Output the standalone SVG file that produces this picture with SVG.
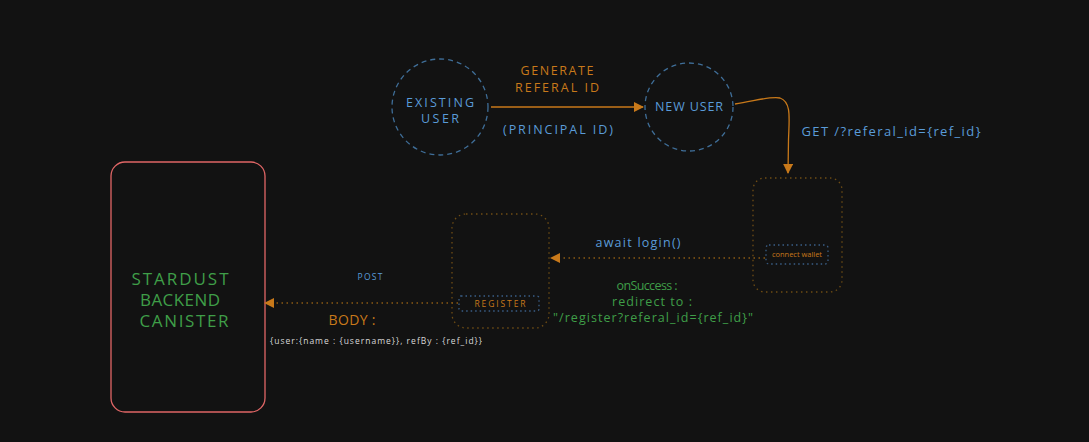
<svg xmlns="http://www.w3.org/2000/svg" width="1089" height="442" viewBox="0 0 1089 442">
<defs>
<style>
text{font-family:"Open Sans","Liberation Sans",sans-serif;text-anchor:middle}
.blue{fill:#5a9bd8}
.orange{fill:#c8791a}
.green{fill:#3f9e48}
.white{fill:#d8d8d8}
.circ{fill:none;stroke:#3f6e98;stroke-width:1.3;stroke-dasharray:5 4}
.dbox{fill:none;stroke:#6e4c14;stroke-width:1.3;stroke-dasharray:1.5 3.5}
.ibox{fill:none;stroke:#3a5e86;stroke-width:1.3;stroke-dasharray:1.5 3}
.solid{fill:none;stroke:#c8791a;stroke-width:1.3}
.dot{fill:none;stroke:#8a5a14;stroke-width:1.3;stroke-dasharray:1.5 3.5}
</style>
<marker id="ah" viewBox="0 0 10 10" refX="9" refY="5" markerWidth="10" markerHeight="10" markerUnits="userSpaceOnUse" orient="auto">
<path d="M0,0 L10,5 L0,10 Z" fill="#c8791a"/>
</marker>
</defs>
<rect width="1089" height="442" fill="#121212"/>

<g id="existing-user">
<circle class="circ" cx="440" cy="107" r="48"/>
<text class="blue" x="440" y="107" font-size="12.5" textLength="68" lengthAdjust="spacing">EXISTING</text>
<text class="blue" x="440" y="123" font-size="12.5" textLength="38" lengthAdjust="spacing">USER</text>
</g>

<g id="new-user">
<circle class="circ" cx="689" cy="107" r="44"/>
<text class="blue" x="689" y="111" font-size="12.5" textLength="68" lengthAdjust="spacing">NEW USER</text>
</g>

<g id="connect-wallet-page">
<rect class="dbox" x="753" y="178" width="89" height="114" rx="12"/>
<rect class="ibox" x="766" y="245" width="62" height="19" rx="3"/>
<text class="orange" x="797" y="257" font-size="7.5" textLength="50" lengthAdjust="spacing">connect wallet</text>
</g>

<g id="register-page">
<rect class="dbox" x="452" y="214" width="97" height="114" rx="14"/>
<rect class="ibox" x="459" y="296" width="80" height="15" rx="2"/>
<text class="orange" x="500" y="307" font-size="8.5" textLength="51" lengthAdjust="spacing">REGISTER</text>
</g>

<g id="stardust-backend">
<rect x="111" y="162" width="154" height="250" rx="14" fill="none" stroke="#e06666" stroke-width="1.3"/>
<text class="green" x="180" y="285" font-size="17" textLength="97" lengthAdjust="spacing">STARDUST</text>
<text class="green" x="180" y="306" font-size="17" textLength="80" lengthAdjust="spacing">BACKEND</text>
<text class="green" x="184" y="327" font-size="17" textLength="89" lengthAdjust="spacing">CANISTER</text>
</g>

<g id="connectors">
<path class="solid" d="M491,107 L643,107" marker-end="url(#ah)"/>
<path class="solid" d="M735,104 C755,101 770,96 780,98 C792,102 789,120 788.5,140 L788,173" marker-end="url(#ah)"/>
<path class="dot" d="M765,258 L551,258" marker-end="url(#ah)"/>
<path class="dot" d="M458,303 L265,303" marker-end="url(#ah)"/>
</g>

<g id="labels">
<text class="orange" x="557" y="75" font-size="12.5" textLength="73" lengthAdjust="spacing">GENERATE</text>
<text class="orange" x="557" y="92" font-size="12.5" textLength="84" lengthAdjust="spacing">REFERAL ID</text>
<text class="blue" x="558" y="134" font-size="12.5" textLength="110" lengthAdjust="spacing">(PRINCIPAL ID)</text>
<text class="blue" x="891" y="136" font-size="13" textLength="179" lengthAdjust="spacing">GET /?referal_id={ref_id}</text>
<text class="blue" x="638" y="247" font-size="12.5" textLength="85" lengthAdjust="spacing">await login()</text>
<text class="green" x="647" y="290" font-size="12.5" textLength="61" lengthAdjust="spacing">onSuccess :</text>
<text class="green" x="652" y="306" font-size="12.5" textLength="80" lengthAdjust="spacing">redirect to :</text>
<text class="green" x="653" y="322" font-size="12.5" textLength="200" lengthAdjust="spacing">"/register?referal_id={ref_id}"</text>
<text class="blue" x="370" y="280" font-size="8.5" textLength="25" lengthAdjust="spacing">POST</text>
<text class="orange" x="352" y="325" font-size="14" textLength="47" lengthAdjust="spacing">BODY :</text>
<text class="white" x="376" y="344" font-size="8.5" textLength="212" lengthAdjust="spacing">{user:{name : {username}}, refBy : {ref_id}}</text>
</g>
</svg>
